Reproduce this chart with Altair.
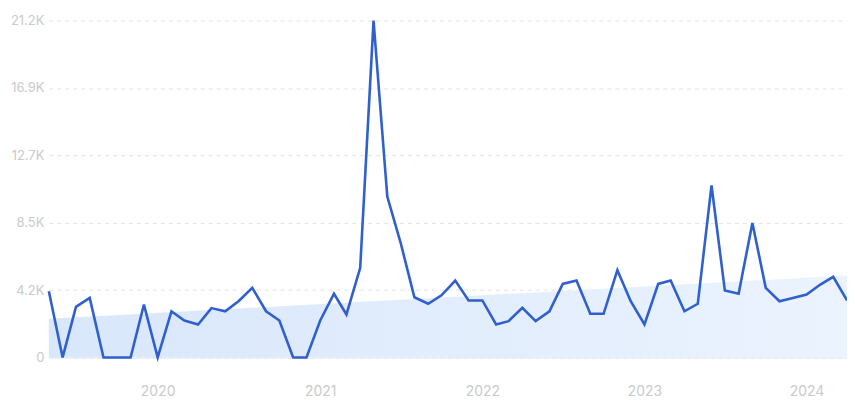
import altair as alt
import pandas as pd

months = pd.date_range("2019-05-01", "2024-04-01", freq="MS").strftime("%Y-%m-%d").tolist()
values = [
    4160, 0, 3180, 3740, 0, 0, 0, 3320,
    0, 2900, 2320, 2070, 3100, 2900, 3530, 4370, 2900, 2320, 0, 0,
    2320, 4000, 2700, 5630, 21150, 10100, 7200, 3780, 3370, 3900, 4830, 3580,
    3580, 2070, 2280, 3120, 2280, 2900, 4620, 4830, 2740, 2740, 5480, 3530,
    2070, 4620, 4830, 2900, 3370, 10800, 4200, 4000, 8450, 4370, 3530, 3740,
    3950, 4580, 5060, 3580,
]
trend_dates = ["2019-05-01", "2024-04-01"]
trend_values = [2430, 5140]
y_ticks = [0, 4230, 8460, 12690, 16920, 21150]
y_labels = ["0", "4.2K", "8.5K", "12.7K", "16.9K", "21.2K"]
x_ticks = ["2020-01-01", "2021-01-01", "2022-01-01", "2023-01-01", "2024-01-01"]

df = pd.DataFrame({"date": months, "value": values})
tdf = pd.DataFrame({"date": trend_dates, "value": trend_values})

label_expr = "[" + ",".join(f"'{l}'" for l in y_labels) + "][indexof([" + ",".join(str(v) for v in y_ticks) + "], datum.value)]"

xscale = alt.Scale(domain=[months[0], months[-1]], nice=False)
yscale = alt.Scale(domain=[0, y_ticks[-1]], nice=False)

area = alt.Chart(tdf).mark_area(
    fill=alt.Gradient(
        gradient="linear",
        stops=[alt.GradientStop(color="#d9e7fb", offset=0), alt.GradientStop(color="#ebf3fe", offset=1)],
        x1=0, x2=1, y1=0, y2=0,
    ),
).encode(
    x=alt.X("date:T", scale=xscale,
            axis=alt.Axis(values=x_ticks, format="%Y", title=None, grid=False, tickSize=0,
                          labelPadding=27, labelFontSize=14, labelColor="#cacaca",
                          labelFont="Inter", domainColor="#dfe7f5", domainWidth=1)),
    y=alt.Y("value:Q", scale=yscale,
            axis=alt.Axis(values=y_ticks, labelExpr=label_expr, title=None, grid=True,
                          gridDash=[4, 4], gridColor="#e3e3e3", domain=False, tickSize=0,
                          labelPadding=5, labelFontSize=13, labelColor="#cacaca",
                          labelFont="Inter")),
)

line = alt.Chart(df).mark_line(color="#3060cf", strokeWidth=2.6, strokeJoin="miter").encode(
    x=alt.X("date:T", scale=xscale),
    y=alt.Y("value:Q", scale=yscale),
)

chart = alt.layer(area, line).properties(
    width=801, height=338,
    autosize=alt.AutoSizeParams(type="none"),
    padding={"left": 41, "top": 12, "right": 0, "bottom": 40},
).configure_view(stroke=None)

chart.save("out.html", embed_options={"renderer": "svg", "actions": False})
